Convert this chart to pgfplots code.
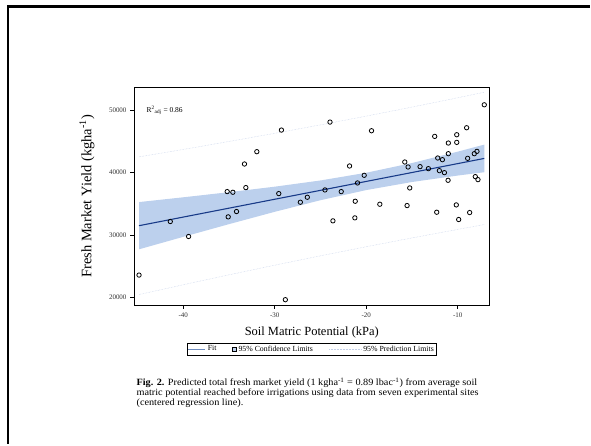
\documentclass[border=0pt]{standalone}
\usepackage{fontspec}
\setmainfont{Liberation Serif}
\usepackage{pgfplots}
\pgfplotsset{compat=1.18}

\definecolor{bandblue}{RGB}{188,208,237}
\definecolor{fitblue}{RGB}{24,58,136}
\definecolor{legfit}{RGB}{110,140,190}
\definecolor{predgray}{RGB}{196,208,232}

\begin{document}
\begin{tikzpicture}
% page area and the frame corner
\path (0pt,0pt) rectangle (591pt,-445pt);
\draw[line width=2.7pt] (8pt,-445pt) -- (8pt,-6.7pt) -- (591pt,-6.7pt);

\begin{axis}[
  at={(134.3pt,-305.7pt)}, anchor=south west,
  width=356.4pt, height=218pt, scale only axis,
  xmin=-45.39, xmax=-6.51, ymin=18717, ymax=53690,
  xtick={-40,-30,-20,-10}, ytick={20000,30000,40000,50000},
  scaled y ticks=false,
  /pgf/number format/1000 sep={},
  /pgf/number format/assume math mode=true,
  xtick pos=bottom, ytick pos=left,
  tick align=outside, major tick length=4pt,
  tick style={black, line width=0.6pt},
  axis line style={line width=0.9pt},
  tick label style={font=\fontsize{7}{8}\selectfont, text=black!80},
  xlabel={Soil Matric Potential (kPa)},
  ylabel={Fresh Market Yield (kgha\textsuperscript{-1})},
  xlabel style={font=\fontsize{12.5}{14}\selectfont,
    at={(axis description cs:0.5,-0.125)}, anchor=center},
  ylabel style={font=\fontsize{14.5}{16}\selectfont,
    at={(axis description cs:-0.132,0.5)}, anchor=center},
  legend style={at={(axis description cs:0.5,-0.203)}, anchor=center,
    legend columns=3, draw=black, line width=0.5pt,
    font=\fontsize{7.8}{7.9}\selectfont, inner sep=0.2pt,
    /tikz/every even column/.append style={column sep=14pt}},
]
% 95% confidence band
\addplot[fill=bandblue, draw=none, forget plot] coordinates {
 (-44.84,35267) (-40,36036) (-35,36859) (-30,37742) (-25,38742)
 (-20,39980) (-15,41545) (-10,43373) (-7.09,44505)
 (-7.09,40065) (-10,39531) (-15,38493) (-20,37194) (-25,35566)
 (-30,33702) (-35,31719) (-40,29678) (-44.84,27673)} -- cycle;
% 95% prediction limits
\addplot[predgray, densely dotted, line width=0.5pt, forget plot] coordinates {
 (-44.84,42547) (-40,43738) (-35,45008) (-30,46323) (-25,47681)
 (-20,49087) (-15,50537) (-10,52035) (-7.09,52926)};
\addplot[predgray, densely dotted, line width=0.5pt, forget plot] coordinates {
 (-44.84,20393) (-40,21976) (-35,23570) (-30,25121) (-25,26627)
 (-20,28087) (-15,29501) (-10,30869) (-7.09,31644)};
% fit
\addplot[fitblue, line width=1.1pt, forget plot] coordinates {
 (-44.84,31470) (-7.09,42285)};
% observations
\addplot[only marks, mark=o, mark size=2.2pt, mark options={line width=0.8pt, black}, forget plot]
 coordinates {
 (-44.84,23529) (-41.42,32139) (-39.42,29733) (-35.20,36952) (-34.58,36845)
 (-35.09,32888) (-34.18,33743) (-33.16,37594) (-33.31,41390) (-31.96,43369)
 (-29.56,36631) (-29.27,46845) (-28.84,19572) (-27.20,35241) (-26.44,36043)
 (-24.51,37219) (-23.96,48128) (-23.64,32246) (-22.73,36952) (-21.82,41070)
 (-21.20,35401) (-21.24,32727) (-20.95,38342) (-20.22,39572) (-19.42,46738)
 (-18.51,34920) (-15.78,41711) (-15.53,34706) (-15.42,40909) (-15.24,37540)
 (-14.11,40963) (-13.20,40642) (-12.51,45829) (-12.29,33636) (-12.18,42353)
 (-12.00,40321) (-11.67,42086) (-11.45,40000) (-11.02,44759) (-11.02,43048)
 (-11.05,38770) (-10.10,46096) (-10.10,44866) (-10.15,34813) (-9.89,32460)
 (-9.02,47219) (-8.91,42299) (-8.69,33583) (-8.18,43048) (-8.07,39358)
 (-7.89,43422) (-7.78,38877) (-7.09,50909)};

\addlegendimage{legend image code/.code={\draw[legfit, line width=1pt] (0pt,0pt) -- (17pt,0pt);}}
\addlegendentry{Fit}
\addlegendimage{legend image code/.code={\draw[black, line width=0.4pt, fill=bandblue] (0pt,-1.9pt) rectangle (3.8pt,1.9pt);}}
\addlegendentry{95\% Confidence Limits}
\addlegendimage{legend image code/.code={\draw[predgray, densely dotted, line width=0.5pt] (0pt,0pt) -- (32pt,0pt);}}
\addlegendentry{95\% Prediction Limits}

\node[anchor=west, font=\fontsize{7.5}{9}\selectfont, inner sep=0pt]
  at (axis description cs:0.035,0.895)
  {R\textsuperscript{2}\textsubscript{adj} = 0.86};
\end{axis}

\node[anchor=north west, inner sep=0pt, align=left, xscale=1.07, transform shape,
  font=\fontsize{9.6}{9.6}\selectfont] at (136.7pt,-378.5pt)
  {\textbf{Fig. 2.} Predicted total fresh market yield (1 kgha\textsuperscript{-1} = 0.89 lbac\textsuperscript{-1}) from average soil\\
   matric potential reached before irrigations using data from seven experimental sites\\
   (centered regression line).};
\end{tikzpicture}
\end{document}
